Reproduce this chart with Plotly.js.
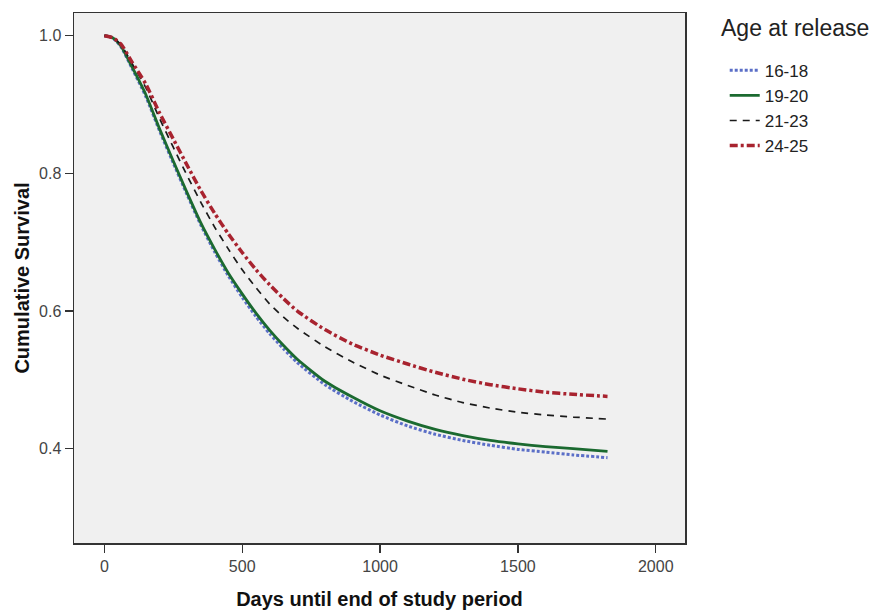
<!DOCTYPE html>
<html>
<head>
<meta charset="utf-8">
<script src="https://cdn.plot.ly/plotly-3.0.1.min.js"></script>
<style>html,body{margin:0;padding:0;background:#fff;}#chart{width:876px;height:614px;}</style>
</head>
<body>
<div id="chart"></div>
<script>
var groups = ["16-18", "19-20", "21-23", "24-25"];
var days = [0, 30, 60, 100, 150, 200, 250, 300, 350, 400, 450, 500, 550, 600, 650, 700, 800, 900, 1000, 1100, 1200, 1300, 1400, 1500, 1600, 1700, 1825];
var surv_16_18 = [1.0, 0.997, 0.984, 0.953, 0.912, 0.862, 0.815, 0.769, 0.725, 0.686, 0.651, 0.620, 0.592, 0.567, 0.545, 0.525, 0.493, 0.469, 0.449, 0.433, 0.421, 0.412, 0.405, 0.399, 0.395, 0.391, 0.387];
var surv_19_20 = [1.0, 0.997, 0.985, 0.955, 0.915, 0.865, 0.818, 0.772, 0.728, 0.690, 0.655, 0.625, 0.597, 0.572, 0.550, 0.530, 0.498, 0.475, 0.455, 0.440, 0.428, 0.419, 0.412, 0.407, 0.403, 0.400, 0.396];
var surv_21_23 = [1.0, 0.997, 0.987, 0.960, 0.925, 0.880, 0.838, 0.797, 0.758, 0.722, 0.690, 0.660, 0.634, 0.610, 0.591, 0.575, 0.548, 0.526, 0.507, 0.492, 0.478, 0.467, 0.459, 0.453, 0.449, 0.446, 0.443];
var surv_24_25 = [1.0, 0.997, 0.988, 0.962, 0.930, 0.888, 0.850, 0.812, 0.775, 0.742, 0.712, 0.685, 0.660, 0.638, 0.618, 0.600, 0.573, 0.552, 0.536, 0.523, 0.511, 0.501, 0.493, 0.487, 0.482, 0.479, 0.476];
var xTicks = [0, 500, 1000, 1500, 2000];
var yTicks = [0.4, 0.6, 0.8, 1.0];

var series = [surv_16_18, surv_19_20, surv_21_23, surv_24_25];
var styles = [
  {color: "#5b6fc7", width: 3, dash: "3px,2px"},
  {color: "#1b6a30", width: 2.8, dash: "solid"},
  {color: "#1a1a1a", width: 1.7, dash: "7px,6px"},
  {color: "#a8232f", width: 3.5, dash: "8px,3px,3px,3px"}
];
var traces = groups.map(function (g, i) {
  return {
    x: days, y: series[i], name: g, type: "scatter", mode: "lines",
    legendgroup: g,
    line: {color: styles[i].color, width: styles[i].width, dash: styles[i].dash, shape: "spline", smoothing: 0.6},
    hoverinfo: "skip"
  };
});

var layout = {
  width: 876, height: 614,
  margin: {l: 74, r: 191, t: 13, b: 71},
  paper_bgcolor: "#ffffff",
  plot_bgcolor: "#f0f0f0",
  font: {family: "Liberation Sans, Arial, sans-serif", color: "#222"},
  showlegend: true,
  legend: {
    x: 1.065, xanchor: "left", y: 0.925, yanchor: "top",
    bgcolor: "rgba(0,0,0,0)", font: {size: 17, color: "#222"},
    traceorder: "grouped", tracegroupgap: 0, itemwidth: 30
  },
  annotations: [{
    text: "Age at release", xref: "paper", yref: "paper",
    x: 1.055, y: 1.0, xanchor: "left", yanchor: "top", showarrow: false,
    font: {size: 23, color: "#222"}
  }],
  xaxis: {
    range: [-110, 2106], tickvals: xTicks, ticktext: xTicks.map(String),
    ticks: "outside", ticklen: 8, tickwidth: 1.3, tickcolor: "#333",
    showline: true, linecolor: "#333", linewidth: 1.5, mirror: true,
    showgrid: false, zeroline: false,
    tickfont: {size: 16, color: "#444"},
    title: {text: "<b>Days until end of study period</b>", font: {size: 20, color: "#111"}, standoff: 18}
  },
  yaxis: {
    range: [0.263, 1.033], tickvals: yTicks, ticktext: yTicks.map(function (v) { return v.toFixed(1); }),
    ticks: "outside", ticklen: 8, tickwidth: 1.3, tickcolor: "#333",
    showline: true, linecolor: "#333", linewidth: 1.5, mirror: true,
    showgrid: false, zeroline: false,
    tickfont: {size: 16, color: "#444"},
    title: {text: "<b>Cumulative Survival</b>", font: {size: 20, color: "#111"}, standoff: 4}
  }
};

Plotly.newPlot("chart", traces, layout, {displayModeBar: false, staticPlot: true});
</script>
</body>
</html>
